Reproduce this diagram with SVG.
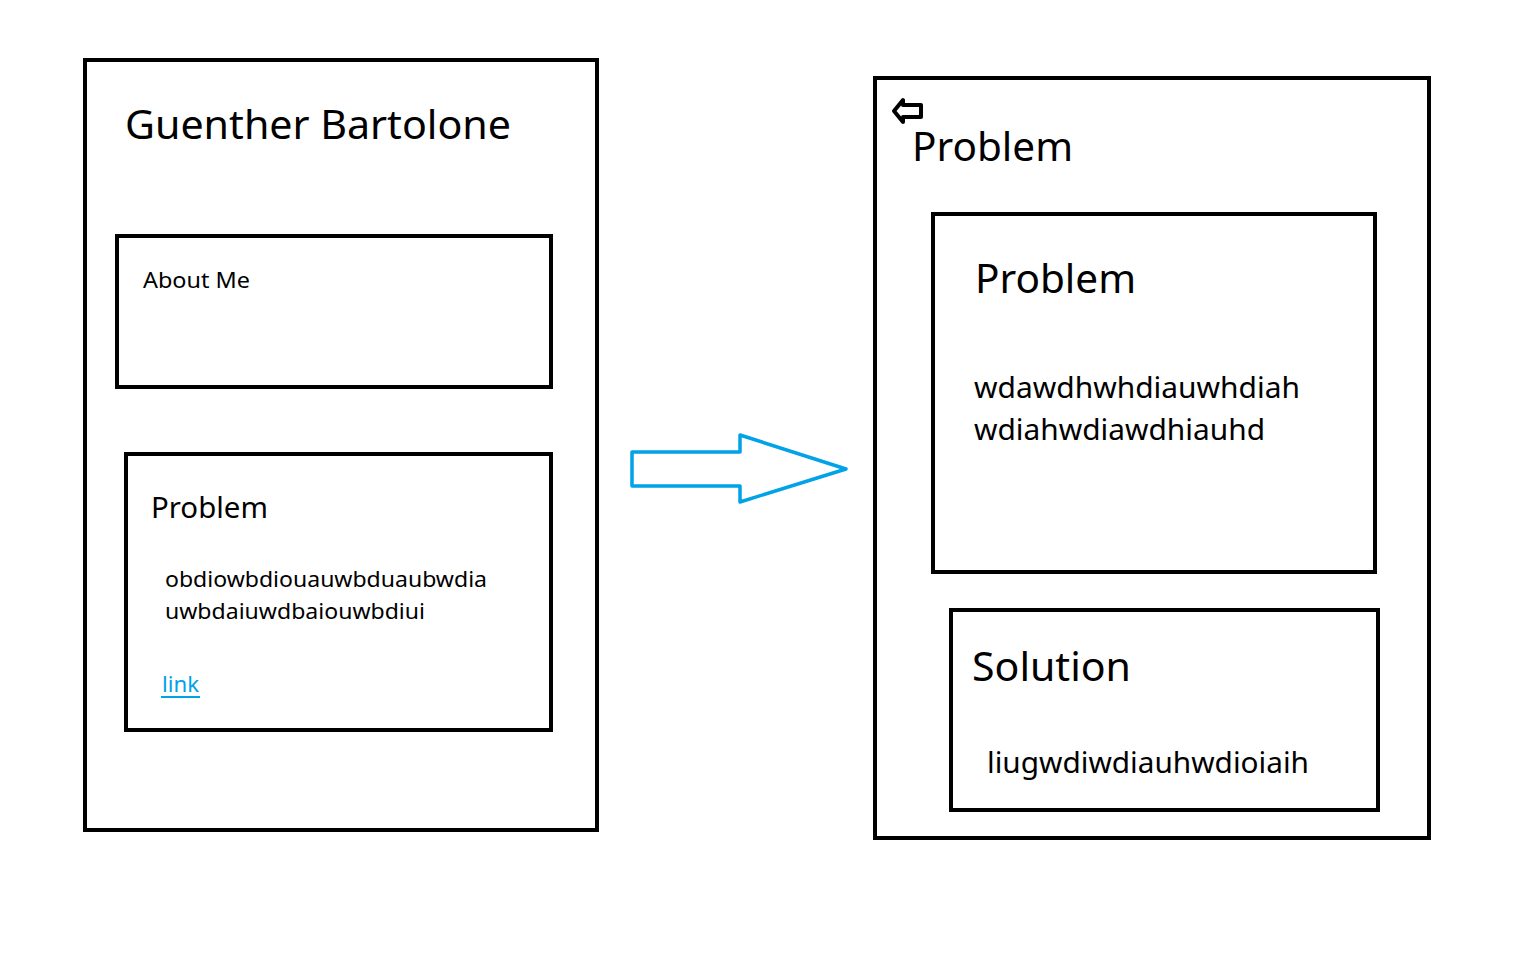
<svg xmlns="http://www.w3.org/2000/svg" width="1536" height="960" viewBox="0 0 1536 960">
<style>
.box{fill:none;stroke:#000;stroke-width:4}
.t{font-family:"Noto Sans","Open Sans","Liberation Sans",sans-serif;fill:#000}
.h{font-size:40px}
.m{font-size:29px}
.s{font-size:22px}
.link{fill:#00a2e8}
</style>
<rect width="1536" height="960" fill="#fff"/>
<g id="page-left">
<rect class="box" x="85" y="60" width="512" height="770"/>
<text class="t h" x="125" y="139" textLength="386" lengthAdjust="spacingAndGlyphs">Guenther Bartolone</text>
</g>
<g id="about-me">
<rect class="box" x="117" y="236" width="434" height="151"/>
<text class="t s" x="143" y="288" textLength="107" lengthAdjust="spacingAndGlyphs">About Me</text>
</g>
<g id="problem-card">
<rect class="box" x="126" y="454" width="425" height="276"/>
<text class="t m" x="151" y="518" textLength="117" lengthAdjust="spacingAndGlyphs">Problem</text>
<text class="t s" x="165" y="587" textLength="322" lengthAdjust="spacingAndGlyphs">obdiowbdiouauwbduaubwdia</text>
<text class="t s" x="165" y="619" textLength="260" lengthAdjust="spacingAndGlyphs">uwbdaiuwdbaiouwbdiui</text>
<text class="t s link" x="162" y="692" textLength="37" lengthAdjust="spacingAndGlyphs">link</text>
<line x1="161" y1="697" x2="200" y2="697" stroke="#00a2e8" stroke-width="2"/>
</g>
<g id="connectors">
<polygon points="632,452 740,452 740,435 846,469 740,502 740,486 632,486" fill="none" stroke="#00a2e8" stroke-width="3.5" stroke-linejoin="round"/>
</g>
<g id="page-right">
<rect class="box" x="875" y="78" width="554" height="760"/>
<polygon points="894,111 903,100 903,105 921,105 921,117 903,117 903,122" fill="none" stroke="#000" stroke-width="4" stroke-linejoin="round"/>
<text class="t h" x="912" y="161" textLength="161" lengthAdjust="spacingAndGlyphs">Problem</text>
</g>
<g id="problem-detail">
<rect class="box" x="933" y="214" width="442" height="358"/>
<text class="t h" x="975" y="293" textLength="161" lengthAdjust="spacingAndGlyphs">Problem</text>
<text class="t m" x="974" y="398" textLength="326" lengthAdjust="spacingAndGlyphs">wdawdhwhdiauwhdiah</text>
<text class="t m" x="974" y="440" textLength="291" lengthAdjust="spacingAndGlyphs">wdiahwdiawdhiauhd</text>
</g>
<g id="solution">
<rect class="box" x="951" y="610" width="427" height="200"/>
<text class="t h" x="972" y="681" textLength="159" lengthAdjust="spacingAndGlyphs">Solution</text>
<text class="t m" x="987" y="773" textLength="322" lengthAdjust="spacingAndGlyphs">liugwdiwdiauhwdioiaih</text>
</g>
</svg>
